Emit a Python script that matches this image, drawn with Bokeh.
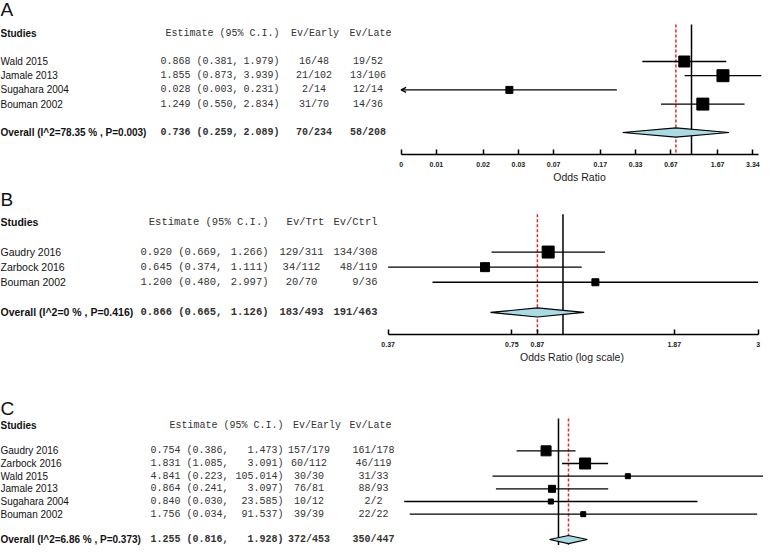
import math
from bokeh.plotting import figure
from bokeh.layouts import column, row
from bokeh.models import Range1d, FixedTicker, ColumnDataSource, Arrow, OpenHead
from bokeh.core.properties import value
from bokeh.embed import file_html
from bokeh.resources import INLINE

# ---------------- data ----------------
# Panel A
studies_A = ["Wald 2015", "Jamale 2013", "Sugahara 2004", "Bouman  2002"]
est_A = [0.868, 1.855, 0.028, 1.249]
lo_A = [0.381, 0.873, 0.003, 0.550]
hi_A = [1.979, 3.939, 0.231, 2.834]
ev1_A = ["16/48", "21/102", "2/14", "31/70"]
ev2_A = ["19/52", "13/106", "12/14", "14/36"]
weight_px_A = [11, 12, 7, 12]
overall_A = {"label": "Overall (I^2=78.35 % , P=0.003)", "est": 0.736, "lo": 0.259, "hi": 2.089,
             "ev1": "70/234", "ev2": "58/208"}
heads_A = ["Studies", "Estimate (95% C.I.)", "Ev/Early", "Ev/Late"]
ticks_A = [0.00334, 0.00668, 0.0167, 0.0334, 0.0668, 0.167, 0.334, 0.668, 1.67, 3.34]
tick_labels_A = ["0", "0.01", "0.02", "0.03", "0.07", "0.17", "0.33", "0.67", "1.67", "3.34"]
axis_label_A = "Odds Ratio"

# Panel B
studies_B = ["Gaudry 2016", "Zarbock 2016", "Bouman 2002"]
est_B = [0.920, 0.645, 1.200]
lo_B = [0.669, 0.374, 0.480]
hi_B = [1.266, 1.111, 2.997]
ev1_B = ["129/311", "34/112", "20/70"]
ev2_B = ["134/308", "48/119", "9/36"]
weight_px_B = [12, 9, 7]
overall_B = {"label": "Overall (I^2=0 % , P=0.416)", "est": 0.866, "lo": 0.665, "hi": 1.126,
             "ev1": "183/493", "ev2": "191/463"}
heads_B = ["Studies", "Estimate (95% C.I.)", "Ev/Trt", "Ev/Ctrl"]
ticks_B = [0.374, 0.75, 0.866, 1.87, 3.0]
tick_labels_B = ["0.37", "0.75", "0.87", "1.87", "3"]
axis_label_B = "Odds Ratio (log scale)"

# Panel C
studies_C = ["Gaudry  2016", "Zarbock 2016", "Wald 2015", "Jamale 2013", "Sugahara 2004", "Bouman 2002"]
est_C = [0.754, 1.831, 4.841, 0.864, 0.840, 1.756]
lo_C = [0.386, 1.085, 0.223, 0.241, 0.030, 0.034]
hi_C = [1.473, 3.091, 105.014, 3.097, 23.585, 91.537]
ev1_C = ["157/179", "60/112", "30/30", "76/81", "10/12", "39/39"]
ev2_C = ["161/178", "46/119", "31/33", "88/93", "2/2", "22/22"]
weight_px_C = [10, 11, 5, 7, 5, 5]
overall_C = {"label": "Overall (I^2=6.86 % , P=0.373)", "est": 1.255, "lo": 0.816, "hi": 1.928,
             "ev1": "372/453", "ev2": "350/447"}
heads_C = ["Studies", "Estimate (95% C.I.)", "Ev/Early", "Ev/Late"]

# ---------------- layout ----------------
W = 763
SANS = value("Liberation Sans")
MONO = value("Liberation Mono")


def base_fig(width, height, xr, yr, border_bottom, log, axis):
    return figure(width=width, height=height, x_axis_type="log" if log else "linear",
                  x_range=xr, y_range=yr, output_backend="svg", toolbar_location=None,
                  min_border=0, min_border_bottom=border_bottom, y_axis_location=None,
                  x_axis_location="below" if axis else None, outline_line_color=None,
                  background_fill_color="white", border_fill_color="white")


def make_panel(letter, names, est, lo, hi, ev1, ev2, wpx, ov, heads, ticks, tick_labels, axis_label, L):
    split = L["split"]
    s, x1 = L["s"], L["x_null"]
    yh, st = L["y_head"], L["step"]
    yr = Range1d((L["frame_bottom"] - yh) / st, (L["frame_top"] - yh) / st)

    # ---- text table (left) ----
    t = base_fig(split, L["height"], Range1d(0, split), yr, L["border_bottom"], False, False)
    t.grid.visible = False

    n = len(names)
    rows = [2 + i for i in range(n)]
    r_ov = n + 3
    fs = L["fs"]
    tc = "#111111"
    mc = "#333333"

    t.text(x=[0], y=[(L["y_letter"] - yh) / st], text=[letter],
           text_font=SANS, text_font_size="19px", text_baseline="middle", text_color=tc)
    t.text(x=[0], y=[0], text=[heads[0]], text_font=SANS,
           text_font_size=fs, text_font_style="bold", text_baseline="middle", text_color=tc)
    t.text(x=[L["est_right"]], y=[0], text=[heads[1]], text_font=MONO,
           text_font_size=fs, text_align="right", text_baseline="middle", text_color=mc)
    t.text(x=[L["h1_x"]], y=[0], text=[heads[2]], text_font=MONO,
           text_font_size=fs, text_align=L["h1_align"], text_baseline="middle", text_color=mc)
    t.text(x=[L["h2_x"]], y=[0], text=[heads[3]], text_font=MONO,
           text_font_size=fs, text_align=L["h2_align"], text_baseline="middle", text_color=mc)

    def row_text(nm, e, l, h, a, b, ys, style):
        t.text(x=[0] * len(ys), y=ys, text=nm, text_font=SANS,
               text_font_size=fs, text_font_style=style, text_baseline="middle", text_color=tc)
        p1 = [f"{ee:.3f} ({ll:.3f}," for ee, ll in zip(e, l)]
        p2 = [f"{hh:.3f})" for hh in h]
        t.text(x=[L["est_left"]] * len(ys), y=ys, text=p1, text_font=MONO,
               text_font_size=fs, text_font_style=style, text_baseline="middle", text_color=mc)
        t.text(x=[L["est_right"]] * len(ys), y=ys, text=p2, text_font=MONO,
               text_font_size=fs, text_font_style=style, text_align="right",
               text_baseline="middle", text_color=mc)
        t.text(x=[L["e1_x"]] * len(ys), y=ys, text=a, text_font=MONO,
               text_font_size=fs, text_font_style=style, text_align=L["e1_align"],
               text_baseline="middle", text_color=mc)
        t.text(x=[L["e2_x"]] * len(ys), y=ys, text=b, text_font=MONO,
               text_font_size=fs, text_font_style=style, text_align=L["e2_align"],
               text_baseline="middle", text_color=mc)

    row_text(names, est, lo, hi, ev1, ev2, rows, "normal")
    row_text([ov["label"]], [ov["est"]], [ov["lo"]], [ov["hi"]], [ov["ev1"]], [ov["ev2"]], [r_ov], "bold")

    # ---- forest plot (right) ----
    xr = Range1d(math.exp((split - x1) / s), math.exp((W - x1) / s))
    p = base_fig(W - split, L["height"], xr, yr, L["border_bottom"], True, bool(ticks))
    p.grid.visible = False

    ytop = (L["y_lines_top"] - yh) / st
    ybot = yr.start
    p.segment(x0=[1], x1=[1], y0=[ytop], y1=[ybot], line_color="black", line_width=1.5)
    p.segment(x0=[ov["est"]], x1=[ov["est"]], y0=[ytop], y1=[ybot], line_color="#e0282a",
              line_width=1.5, line_dash="3 2")

    xmin = ticks[0] if ticks else xr.start
    keep = [i for i in range(n) if lo[i] >= xmin]
    clip = [i for i in range(n) if lo[i] < xmin]
    p.segment(x0=[lo[i] for i in keep], x1=[hi[i] for i in keep],
              y0=[rows[i] for i in keep], y1=[rows[i] for i in keep],
              line_color="black", line_width=1.3)
    if clip:
        src = ColumnDataSource(dict(xs=[hi[i] for i in clip], xe=[xmin] * len(clip),
                                    y=[rows[i] for i in clip]))
        p.add_layout(Arrow(end=OpenHead(size=5, line_width=1.2, line_color="black"),
                           x_start="xs", y_start="y", x_end="xe", y_end="y", source=src,
                           line_color="black", line_width=1.3))
    p.scatter(x=est, y=rows, size=wpx, marker="square", fill_color="black", line_color="black")

    hh = L["dh"]
    p.patch(x=[ov["lo"], ov["est"], ov["hi"], ov["est"]], y=[r_ov, r_ov - hh, r_ov, r_ov + hh],
            fill_color="#a9dbe6", line_color="black", line_width=1.2)

    if ticks:
        ax = p.xaxis[0]
        ax.ticker = FixedTicker(ticks=ticks)
        ax.major_label_overrides = dict(zip(ticks, tick_labels))
        ax.bounds = (ticks[0], L["axis_end"])
        ax.major_tick_in = 5
        ax.major_tick_out = 0
        ax.minor_tick_line_color = None
        ax.axis_line_width = 1.5
        ax.major_tick_line_width = 1.5
        ax.major_label_text_font = "Liberation Sans"
        ax.major_label_text_font_size = "7px"
        ax.major_label_text_font_style = "bold"
        ax.major_label_text_color = "#222222"
        ax.major_label_standoff = 7
        ax.axis_label = axis_label
        ax.axis_label_text_font = "Liberation Sans"
        ax.axis_label_text_font_size = "10.5px"
        ax.axis_label_text_font_style = "normal"
        ax.axis_label_text_color = "#222222"
        ax.axis_label_standoff = 1
    return row(t, p)


K = 383 / 391  # horizontal squeeze of the plot region


def xmap(xref):
    return 380 + (xref - 380) * K


LA = dict(split=395, s=52.0 * K, x_null=xmap(697.5), frame_top=0, frame_bottom=154, height=185,
          border_bottom=31, y_head=32.6, step=14.2, y_letter=8.5, y_lines_top=24, fs="10px",
          est_left=160, est_right=279, h1_x=314.5, h1_align="center", h2_x=370, h2_align="center",
          e1_x=313.5, e1_align="center", e2_x=367.5, e2_align="center", dh=0.33, axis_end=3.73)
LB = dict(split=380, s=181.5 * K, x_null=xmap(566.3), frame_top=185, frame_bottom=335, height=180,
          border_bottom=30, y_head=221.6, step=15.2, y_letter=198.7, y_lines_top=214, fs="10.5px",
          est_left=140, est_right=268, h1_x=305, h1_align="center", h2_x=377, h2_align="right",
          e1_x=301, e1_align="center", e2_x=377, e2_align="right", dh=0.3, axis_end=3.0)
LC = dict(split=398, s=44.9 * K, x_null=xmap(561.7), frame_top=365, frame_bottom=545, height=180,
          border_bottom=0, y_head=425, step=12.67, y_letter=407.5, y_lines_top=418, fs="10px",
          est_left=150, est_right=283, h1_x=316.5, h1_align="center", h2_x=370, h2_align="center",
          e1_x=308.5, e1_align="center", e2_x=373, e2_align="center", dh=0.32, axis_end=None)

rA = make_panel("A", studies_A, est_A, lo_A, hi_A, ev1_A, ev2_A, weight_px_A, overall_A, heads_A,
                ticks_A, tick_labels_A, axis_label_A, LA)
rB = make_panel("B", studies_B, est_B, lo_B, hi_B, ev1_B, ev2_B, weight_px_B, overall_B, heads_B,
                ticks_B, tick_labels_B, axis_label_B, LB)
rC = make_panel("C", studies_C, est_C, lo_C, hi_C, ev1_C, ev2_C, weight_px_C, overall_C, heads_C,
                None, None, None, LC)

layout = column(rA, rB, rC)
open("out.html", "w").write(file_html(layout, INLINE))
